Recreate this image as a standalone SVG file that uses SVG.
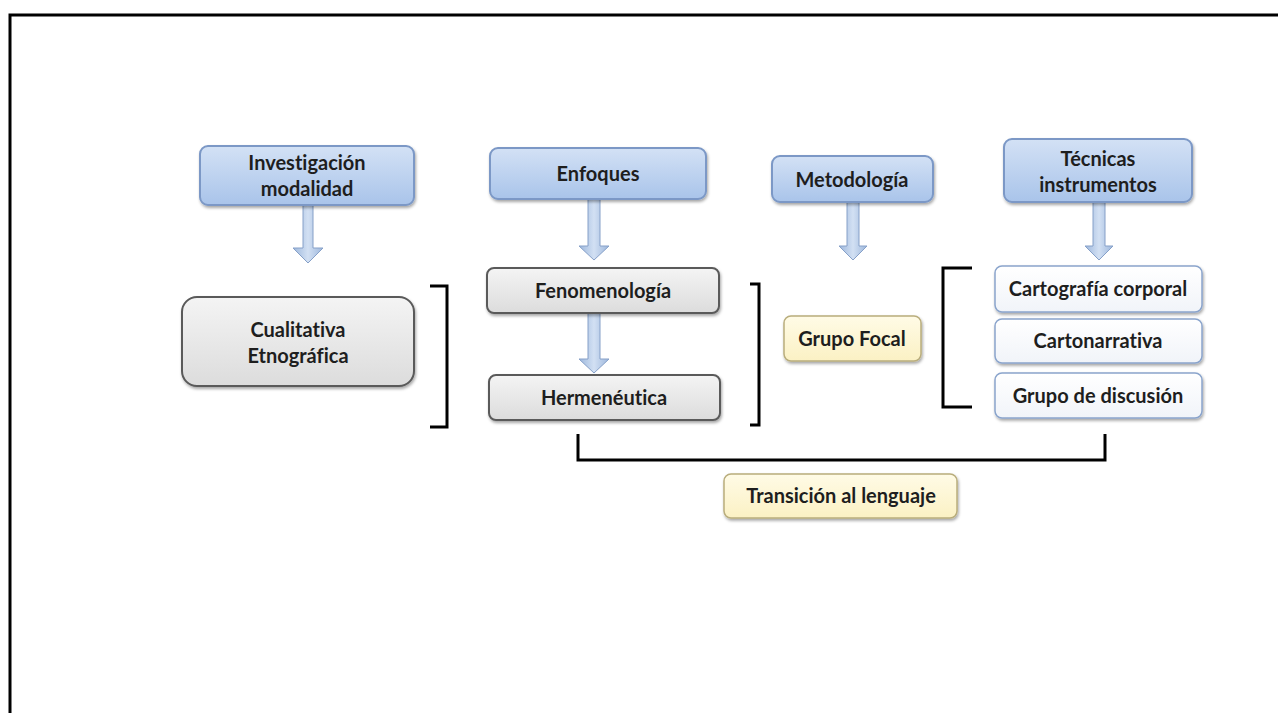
<svg xmlns="http://www.w3.org/2000/svg" width="1278" height="713" viewBox="0 0 1278 713">
<defs>
<linearGradient id="gBlue" x1="0" y1="0" x2="0" y2="1"><stop offset="0" stop-color="#d3e1f5"/><stop offset="1" stop-color="#a9c4ea"/></linearGradient>
<linearGradient id="gGray" x1="0" y1="0" x2="0" y2="1"><stop offset="0" stop-color="#f4f4f4"/><stop offset="1" stop-color="#dcdcdc"/></linearGradient>
<linearGradient id="gYel" x1="0" y1="0" x2="0" y2="1"><stop offset="0" stop-color="#fffbe6"/><stop offset="1" stop-color="#fbf1c4"/></linearGradient>
<linearGradient id="gWhite" x1="0" y1="0" x2="0" y2="1"><stop offset="0" stop-color="#ffffff"/><stop offset="1" stop-color="#f1f4f9"/></linearGradient>
<linearGradient id="gArrow" x1="0" y1="0" x2="1" y2="0"><stop offset="0" stop-color="#9db7dc"/><stop offset="0.5" stop-color="#d2e0f3"/><stop offset="1" stop-color="#9db7dc"/></linearGradient>
<filter id="sh" x="-10%" y="-20%" width="120%" height="150%"><feDropShadow dx="1" dy="2" stdDeviation="1.5" flood-color="#000" flood-opacity="0.35"/></filter>
</defs>
<style>
.blue{fill:url(#gBlue);stroke:#7b98c6;stroke-width:2}
.gray{fill:url(#gGray);stroke:#5a5a5a;stroke-width:2}
.yel{fill:url(#gYel);stroke:#b9ad7c;stroke-width:1.5}
.wht{fill:url(#gWhite);stroke:#8aa4cc;stroke-width:1.5}
.t{font-family:Lato,"Open Sans",sans-serif;font-weight:bold;font-size:20px;fill:#1e1e1e;text-anchor:middle;font-variant-ligatures:none}
.arr{fill:url(#gArrow);stroke:#86a0c8;stroke-width:1}
.br{fill:none;stroke:#000;stroke-width:3}
</style>
<rect x="10" y="15" width="1290" height="720" fill="none" stroke="#000" stroke-width="3"/>

<g id="connectors">
<path class="arr" d="M303,205 L313,205 L313,248 L323,248 L308,263 L293,248 L303,248 Z"/>
<path class="arr" d="M588,199 L600,199 L600,246 L609,246 L594,260 L579,246 L588,246 Z"/>
<path class="arr" d="M588,313 L600,313 L600,359 L609,359 L594,373 L579,359 L588,359 Z"/>
<path class="arr" d="M847,202 L859,202 L859,246 L867,246 L853,260 L839,246 L847,246 Z"/>
<path class="arr" d="M1093,202 L1105,202 L1105,246 L1113,246 L1099,260 L1085,246 L1093,246 Z"/>
<path class="br" d="M430,286 L447,286 L447,427 L430,427"/>
<path class="br" d="M750,284 L759,284 L759,425 L750,425"/>
<path class="br" d="M972,268 L943,268 L943,407 L972,407"/>
<path class="br" d="M578,434 L578,460 L1105,460 L1105,434"/>
</g>

<g id="n-investigacion"><rect class="blue" x="200" y="146" width="214" height="59" rx="8" filter="url(#sh)"/>
<text class="t" x="307" y="170">Investigación</text>
<text class="t" x="307" y="196">modalidad</text></g>

<g id="n-cualitativa"><rect class="gray" x="182" y="297" width="232" height="89" rx="15" filter="url(#sh)"/>
<text class="t" x="298" y="337">Cualitativa</text>
<text class="t" x="298" y="363">Etnográfica</text></g>

<g id="n-enfoques"><rect class="blue" x="490" y="148" width="216" height="51" rx="8" filter="url(#sh)"/>
<text class="t" x="598" y="181">Enfoques</text></g>

<g id="n-fenomenologia"><rect class="gray" x="487" y="268" width="232" height="45" rx="7" filter="url(#sh)"/>
<text class="t" x="603" y="298">Fenomenología</text></g>

<g id="n-hermeneutica"><rect class="gray" x="489" y="375" width="231" height="45" rx="7" filter="url(#sh)"/>
<text class="t" x="604" y="405">Hermenéutica</text></g>

<g id="n-metodologia"><rect class="blue" x="772" y="156" width="161" height="46" rx="8" filter="url(#sh)"/>
<text class="t" x="852" y="187">Metodología</text></g>

<g id="n-grupofocal"><rect class="yel" x="784" y="316" width="137" height="45" rx="7" filter="url(#sh)"/>
<text class="t" x="852" y="346">Grupo Focal</text></g>

<g id="n-tecnicas"><rect class="blue" x="1004" y="139" width="188" height="63" rx="8" filter="url(#sh)"/>
<text class="t" x="1098" y="166">Técnicas</text>
<text class="t" x="1098" y="192">instrumentos</text></g>

<g id="n-cartografia"><rect class="wht" x="995" y="266" width="207" height="46" rx="7" filter="url(#sh)"/>
<text class="t" x="1098" y="296">Cartografía corporal</text></g>

<g id="n-cartonarrativa"><rect class="wht" x="995" y="319" width="207" height="44" rx="7" filter="url(#sh)"/>
<text class="t" x="1098" y="348">Cartonarrativa</text></g>

<g id="n-grupodiscusion"><rect class="wht" x="995" y="373" width="207" height="45" rx="7" filter="url(#sh)"/>
<text class="t" x="1098" y="403">Grupo de discusión</text></g>

<g id="n-transicion"><rect class="yel" x="724" y="474" width="233" height="44" rx="7" filter="url(#sh)"/>
<text class="t" x="841" y="503">Transición al lenguaje</text></g>
</svg>
